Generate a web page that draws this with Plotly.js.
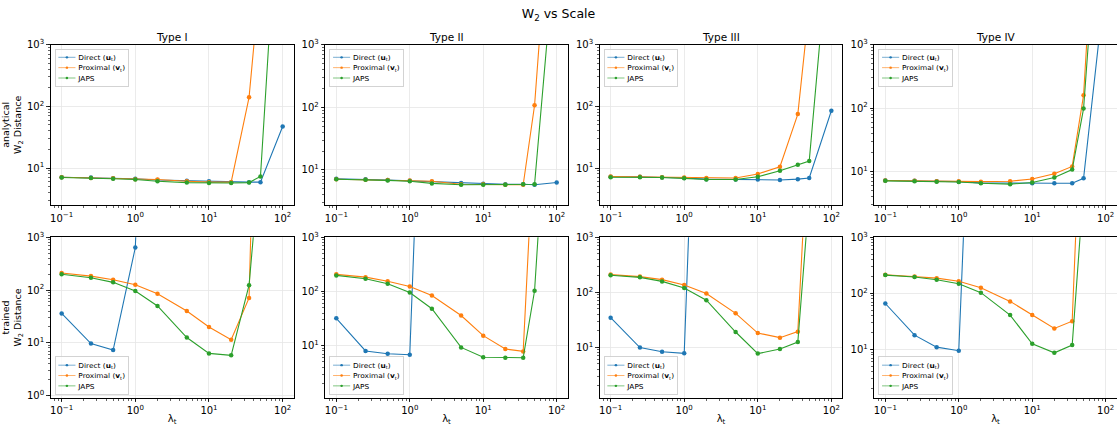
<!DOCTYPE html>
<html>
<head>
<meta charset="utf-8">
<script src="https://cdn.plot.ly/plotly-3.0.1.min.js"></script>
<style>html,body{margin:0;padding:0;background:#fff}#chart{width:1117px;height:426px}</style>
</head>
<body>
<div id="chart"></div>
<script>
// ---- data ----
const lambdas = [0.1, 0.25, 0.5, 1, 2, 5, 10, 20, 35, 50, 100];
const typeNames = ['Type I', 'Type II', 'Type III', 'Type IV'];
const seriesNames = ['Direct (<b>u</b><sub>t</sub>)', 'Proximal (<b>v</b><sub>t</sub>)', 'JAPS'];
const xTickVals = [0.1, 1, 10, 100];
const xTickText = ['10<sup>−1</sup>', '10<sup>0</sup>', '10<sup>1</sup>', '10<sup>2</sup>'];
const yTickVals = [1, 10, 100, 1000];
const yTickText = ['10<sup>0</sup>', '10<sup>1</sup>', '10<sup>2</sup>', '10<sup>3</sup>'];

// analytical W2 distance
const anaI_direct   = [7.1, 7.0, 6.8, 6.7, 6.4, 6.2, 6.1, 5.9, 5.9, 5.9, 47];
const anaI_prox     = [7.1, 6.9, 6.8, 6.6, 6.5, 6.1, 5.9, 5.9, 140, 14000, 5e6];
const anaI_japs     = [7.0, 6.9, 6.7, 6.5, 6.1, 5.8, 5.7, 5.7, 5.8, 7.3, 4.5e6];
const anaII_direct  = [7.2, 7.1, 6.9, 6.7, 6.5, 6.2, 6.0, 5.9, 5.9, 5.8, 6.3];
const anaII_prox    = [7.1, 7.0, 6.9, 6.8, 6.6, 5.9, 5.9, 5.8, 5.8, 108, 6e6];
const anaII_japs    = [7.1, 7.0, 6.8, 6.6, 6.1, 5.8, 5.8, 5.8, 5.9, 5.9, 68000];
const anaIII_direct = [7.2, 7.2, 7.0, 6.9, 6.6, 6.5, 6.5, 6.4, 6.6, 6.9, 85];
const anaIII_prox   = [7.3, 7.2, 7.1, 7.0, 6.9, 6.9, 8.0, 10.5, 75, 21000, 1e7];
const anaIII_japs   = [7.1, 7.1, 7.0, 6.8, 6.5, 6.5, 7.2, 9.0, 11.3, 13, 1.4e5];
const anaIV_direct  = [7.2, 7.1, 7.0, 6.9, 6.6, 6.5, 6.5, 6.5, 6.5, 7.8, 11000];
const anaIV_prox    = [7.2, 7.1, 7.0, 7.0, 6.9, 7.0, 7.6, 9.2, 12, 160, 1e8];
const anaIV_japs    = [7.1, 7.0, 6.9, 6.8, 6.5, 6.3, 6.7, 8.0, 10.7, 98, 6e6];

// trained W2 distance
const trI_direct    = [36, 9.7, 7.3, 640, 1e14, null, null, null, null, null, null];
const trI_prox      = [210, 184, 157, 126, 85, 40, 20, 11.4, 71, 8e9, null];
const trI_japs      = [200, 171, 140, 96, 50, 12.6, 6.3, 5.8, 124, 37000, null];
const trII_direct   = [32, 8.0, 7.1, 6.8, 5e11, null, null, null, null, null, null];
const trII_prox     = [207, 184, 155, 124, 84, 36, 15.3, 8.7, 7.85, 1.2e5, null];
const trII_japs     = [198, 172, 139, 96, 48, 9.3, 6.1, 6.0, 6.0, 103, 2.5e8];
const trIII_direct  = [34.6, 9.9, 8.3, 7.8, 5e11, null, null, null, null, null, null];
const trIII_prox    = [210, 193, 170, 136, 95, 41.5, 18.2, 15, 19.3, 2e5, null];
const trIII_japs    = [204, 187, 158, 120, 72, 19, 7.7, 9.3, 12.5, 5500, null];
const trIV_direct   = [66, 18, 11, 9.5, 4e10, null, null, null, null, null, null];
const trIV_prox     = [215, 199, 187, 164, 126, 72, 41, 23.7, 32, 3e6, null];
const trIV_japs     = [212, 196, 175, 149, 103, 41, 12.6, 8.7, 12, 7400, null];

const panels = [
  [anaI_direct, anaI_prox, anaI_japs],
  [anaII_direct, anaII_prox, anaII_japs],
  [anaIII_direct, anaIII_prox, anaIII_japs],
  [anaIV_direct, anaIV_prox, anaIV_japs],
  [trI_direct, trI_prox, trI_japs],
  [trII_direct, trII_prox, trII_japs],
  [trIII_direct, trIII_prox, trIII_japs],
  [trIV_direct, trIV_prox, trIV_japs]
];

// ---- layout geometry (pixels) ----
const W = 1117, H = 426;
const colsPx = [[50.6, 293.7], [325.3, 567.7], [599.6, 842.4], [874.3, 1116.7]];
const rowsPx = [[44.7, 205], [237.3, 397.7]];
const yRanges = [[0.4, 3], [0.44, 3], [0.4, 3], [0.47, 3], [-0.04, 3], [0.04, 3], [0.085, 3], [0.14, 3]];
const colors = ['#1f77b4', '#ff7f0e', '#2ca02c'];
const FONT = 'DejaVu Sans, sans-serif';

const traces = [];
const layout = {
  width: W, height: H,
  margin: {l: 0, r: 0, t: 0, b: 0},
  paper_bgcolor: '#fff', plot_bgcolor: '#fff',
  font: {family: FONT, color: '#000', size: 10},
  title: {text: 'W<sub>2</sub> vs Scale', x: 0.5, xanchor: 'center', y: 1 - 14 / H, yanchor: 'middle', font: {size: 12.5, family: FONT}},
  annotations: [],
  showlegend: true
};

const legendIds = [];
for (let p = 0; p < 8; p++) {
  const row = Math.floor(p / 4), col = p % 4;
  const sfx = p === 0 ? '' : String(p + 1);
  const xa = 'xaxis' + sfx, ya = 'yaxis' + sfx;
  const legId = 'legend' + sfx;
  legendIds.push(legId);
  const [x0, x1] = colsPx[col];
  const [t0, t1] = rowsPx[row];
  layout[xa] = {
    type: 'log', range: [-1.15, 2.15],
    domain: [x0 / W, x1 / W], anchor: 'y' + sfx,
    tickmode: 'array', tickvals: xTickVals, ticktext: xTickText,
    ticks: 'outside', ticklen: 3.5, tickwidth: 0.8, tickcolor: '#000',
    minor: {dtick: 'D1', ticks: 'outside', ticklen: 2, tickwidth: 0.6, tickcolor: '#000', showgrid: false},
    showline: true, linecolor: '#000', linewidth: 1, mirror: true,
    showgrid: true, gridcolor: '#e6e6e6', gridwidth: 0.8,
    zeroline: false, tickfont: {size: 10, family: FONT},
    automargin: false
  };
  if (row === 1) layout[xa].title = {text: 'λ<sub>t</sub>', font: {size: 10, family: FONT}, standoff: 2};
  layout[ya] = {
    type: 'log', range: yRanges[p],
    domain: [1 - t1 / H, 1 - t0 / H], anchor: 'x' + sfx,
    tickmode: 'array', tickvals: yTickVals, ticktext: yTickText,
    ticks: 'outside', ticklen: 3.5, tickwidth: 0.8, tickcolor: '#000',
    minor: {dtick: 'D1', ticks: 'outside', ticklen: 2, tickwidth: 0.6, tickcolor: '#000', showgrid: false},
    showline: true, linecolor: '#000', linewidth: 1, mirror: true,
    showgrid: true, gridcolor: '#e6e6e6', gridwidth: 0.8,
    zeroline: false, tickfont: {size: 10, family: FONT},
    automargin: false
  };
  if (col === 0) {
    layout[ya].title = {text: (row === 0 ? 'analytical' : 'trained') + '<br>W<sub>2</sub> Distance', font: {size: 9.5, family: FONT}, standoff: 5};
  }
  if (row === 0) {
    layout.annotations.push({
      text: typeNames[col], xref: 'paper', yref: 'paper',
      x: (x0 + x1) / 2 / W, y: 1 - 37 / H, xanchor: 'center', yanchor: 'middle',
      showarrow: false, font: {size: 10.5, family: FONT}
    });
  }
  layout[legId] = {
    x: (x0 + 4) / W, y: 1 - (t0 + 4) / H, xanchor: 'left', yanchor: 'top',
    xref: 'paper', yref: 'paper',
    bgcolor: 'rgba(255,255,255,0.8)', bordercolor: '#cccccc', borderwidth: 1.6,
    font: {size: 13, family: FONT}, itemwidth: 30, tracegroupgap: 0,
    traceorder: 'normal'
  };
  panels[p].forEach((ys, k) => {
    traces.push({
      type: 'scatter', mode: 'lines+markers',
      x: lambdas, y: ys, name: seriesNames[k],
      xaxis: 'x' + sfx, yaxis: 'y' + sfx, legend: legId,
      line: {color: colors[k], width: 1.1},
      marker: {color: colors[k], size: 4.5},
      connectgaps: false, cliponaxis: true
    });
  });
}

Plotly.newPlot('chart', traces, layout, {staticPlot: true, displayModeBar: false}).then(gd => {
  const sx = 0.57, sy = 0.52;
  legendIds.forEach((id, p) => {
    const g = gd.querySelector('g.' + id);
    if (!g) return;
    const bg = g.querySelector('rect.bg');
    const h = bg ? parseFloat(bg.getAttribute('height')) : 60;
    const row = Math.floor(p / 4), col = p % 4;
    const x = colsPx[col][0] + 4;
    const y = row === 0 ? rowsPx[row][0] + 4 : rowsPx[row][1] - 4 - h * sy;
    g.setAttribute('transform', `translate(${x},${y}) scale(${sx},${sy})`);
  });
});
</script>
</body>
</html>
